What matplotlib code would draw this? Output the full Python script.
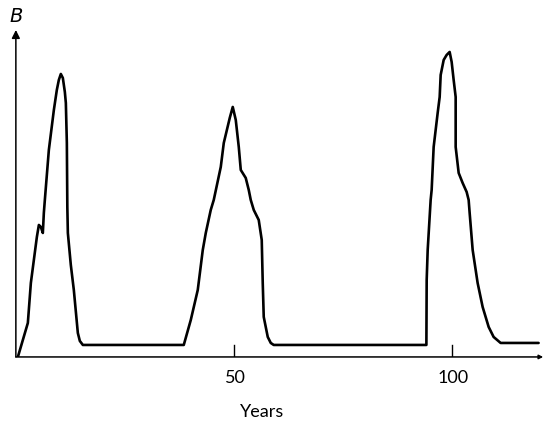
import matplotlib
matplotlib.use("Agg")
import matplotlib.pyplot as plt

# budworm density B over time (years)
years = [0.46, 2.75, 3.44, 4.82, 5.28, 5.73, 6.19, 6.42, 6.65, 7.57, 8.72,
         9.40, 9.86, 10.32, 10.78, 11.24, 11.47, 11.70, 11.81, 11.93, 12.61,
         13.30, 14.22, 14.68, 15.37,
         38.53, 40.14, 41.74, 42.89, 43.58, 44.72, 45.41, 47.02, 47.71, 49.08,
         49.77, 50.46, 51.15, 51.61, 52.75, 53.44, 53.90, 54.59, 55.73, 56.42,
         56.65, 56.88, 57.80, 58.49, 59.17,
         94.20, 94.27, 94.50, 95.18, 95.41, 95.87, 96.79, 97.25, 97.48, 98.17,
         98.85, 99.54, 100.0, 100.46, 100.92, 100.92, 101.61, 102.52, 103.44,
         103.90, 104.13, 104.82, 105.96, 107.11, 108.49, 109.63, 111.24, 119.95]
B = [0, 34, 74, 120, 132, 130, 124, 144, 157, 207, 247,
     267, 277, 283, 279, 265, 254, 214, 150, 124, 92,
     67, 24, 16, 12,
     12, 37, 67, 107, 124, 147, 157, 190, 214, 239,
     250, 237, 210, 187, 179, 167, 157, 147, 137, 117,
     74, 40, 20, 14, 12,
     12, 77, 107, 157, 167, 210, 244, 260, 282, 297,
     302, 305, 295, 277, 260, 210, 184, 174, 165,
     157, 144, 107, 74, 50, 30, 20, 14, 14]
tick_years = [50, 100]
tick_labels = ["50", "100"]

plt.rcParams["font.family"] = ["Lato", "DejaVu Sans"]

fig = plt.figure(figsize=(5.47, 4.28), dpi=100)
ax = fig.add_axes([0.029, 0.166, 0.964, 0.764])
ax.set_xlim(0, 121)
ax.set_ylim(0, 327)
ax.axis("off")

ax.plot(years, B, color="black", lw=1.9, solid_joinstyle="round",
        solid_capstyle="round")

# axes with arrows
ax.annotate("", xy=(0, 327), xytext=(0, 0),
            arrowprops=dict(arrowstyle="-|>", color="black", lw=1.1,
                            mutation_scale=12, shrinkA=0, shrinkB=0))
ax.annotate("", xy=(121, 0), xytext=(0, 0),
            arrowprops=dict(arrowstyle="-|>", color="black", lw=1.1,
                            mutation_scale=6, shrinkA=0, shrinkB=0))

for t, lab in zip(tick_years, tick_labels):
    ax.plot([t, t], [0, 12], color="black", lw=1.0)
    ax.text(t + 0.4, -21, lab, ha="center", va="center", fontsize=13)

ax.text(56.6, -55, "Years", ha="center", va="center", fontsize=13)
ax.text(0, 340, "B", ha="center", va="center", fontsize=14, style="italic",
        family="DejaVu Sans")

plt.savefig("out.png", dpi=100)
